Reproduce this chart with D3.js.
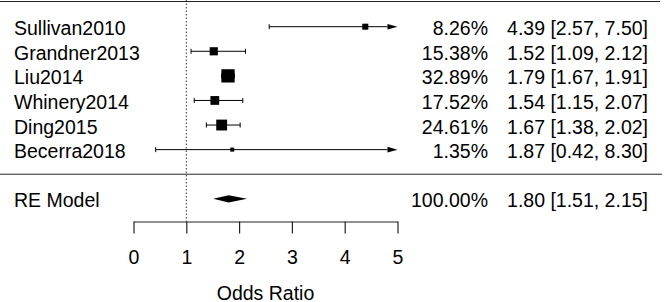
<!DOCTYPE html>
<html>
<head>
<meta charset="utf-8">
<script src="https://cdn.jsdelivr.net/npm/d3@7"></script>
<style>
  html, body { margin: 0; padding: 0; background: #fff; }
  svg { display: block; }
  text { font-family: "Liberation Sans", Arial, sans-serif; fill: #000; }
</style>
</head>
<body>
<svg id="chart" width="664" height="302"></svg>
<script>
// ---- data ----
const studies = ["Sullivan2010", "Grandner2013", "Liu2014", "Whinery2014", "Ding2015", "Becerra2018"];
const oddsRatio = [4.39, 1.52, 1.79, 1.54, 1.67, 1.87];
const ciLower = [2.57, 1.09, 1.67, 1.15, 1.38, 0.42];
const ciUpper = [7.50, 2.12, 1.91, 2.07, 2.02, 8.30];
const weights = [8.26, 15.38, 32.89, 17.52, 24.61, 1.35];
const summaryLabel = "RE Model";
const summaryEstimate = [1.80, 1.51, 2.15]; // estimate, lower, upper
const summaryWeight = 100.00;
const xTicks = [0, 1, 2, 3, 4, 5];
const xLabel = "Odds Ratio";

// ---- layout ----
const W = 664, H = 302;
const fontSize = 19.5;
const svg = d3.select("#chart");

const x = d3.scaleLinear().domain([0, 5]).range([133.5, 397.5]);
const k = studies.length;
// rows: k..1 for studies, -1 for summary
const y = d3.scaleLinear().domain([k, -1]).range([26.7, 198.8]);
const size = d3.scaleLinear().domain([d3.min(weights), d3.max(weights)]).range([4, 13.3]);

const axisY = 221.5;
const labelX = 14;
const pctRight = 488;
const estRight = 648;
const baseOff = 8.6;
const [xmin, xmax] = x.domain();

// top line
svg.append("line").attr("x1", 0).attr("x2", 660).attr("y1", 1.5).attr("y2", 1.5)
  .attr("stroke", "#222").attr("stroke-width", 1);

// reference dotted line at OR = 1
svg.append("line").attr("x1", x(1)).attr("x2", x(1)).attr("y1", 0).attr("y2", axisY)
  .attr("stroke", "#333").attr("stroke-width", 1).attr("stroke-dasharray", "1.5,2");

// separator line
svg.append("line").attr("x1", 0).attr("x2", 662).attr("y1", y(0)).attr("y2", y(0))
  .attr("stroke", "#222").attr("stroke-width", 1);

// study rows
const rows = studies.map((s, i) => ({
  name: s, est: oddsRatio[i], lo: ciLower[i], hi: ciUpper[i], w: weights[i], row: k - i
}));

const g = svg.append("g");
rows.forEach(d => {
  const yy = y(d.row);
  const lo = Math.max(d.lo, xmin), hi = Math.min(d.hi, xmax);
  const arrowLen = 10, arrowHalf = 2.8, cap = 2.5;
  const x1 = d.lo < xmin ? x(lo) + arrowLen : x(lo);
  const x2 = d.hi > xmax ? x(hi) - arrowLen : x(hi);
  g.append("line").attr("x1", x1).attr("x2", x2).attr("y1", yy).attr("y2", yy)
    .attr("stroke", "#000").attr("stroke-width", 1);
  // left end
  if (d.lo < xmin) {
    g.append("path").attr("d", `M${x(lo)},${yy} L${x(lo) + arrowLen},${yy - arrowHalf} L${x(lo) + arrowLen},${yy + arrowHalf} Z`).attr("fill", "#000");
  } else {
    g.append("line").attr("x1", x(lo)).attr("x2", x(lo)).attr("y1", yy - cap).attr("y2", yy + cap)
      .attr("stroke", "#000").attr("stroke-width", 1);
  }
  // right end
  if (d.hi > xmax) {
    g.append("path").attr("d", `M${x(hi)},${yy} L${x(hi) - arrowLen},${yy - arrowHalf} L${x(hi) - arrowLen},${yy + arrowHalf} Z`).attr("fill", "#000");
  } else {
    g.append("line").attr("x1", x(hi)).attr("x2", x(hi)).attr("y1", yy - cap).attr("y2", yy + cap)
      .attr("stroke", "#000").attr("stroke-width", 1);
  }
  // square
  const s = size(d.w);
  g.append("rect").attr("x", x(d.est) - s / 2).attr("y", yy - s / 2)
    .attr("width", s).attr("height", s).attr("fill", "#000");
  // texts
  g.append("text").attr("x", labelX).attr("y", yy + baseOff).attr("font-size", fontSize).text(d.name);
  g.append("text").attr("x", pctRight).attr("y", yy + baseOff).attr("font-size", fontSize)
    .attr("text-anchor", "end").text(d.w.toFixed(2) + "%");
  g.append("text").attr("x", estRight).attr("y", yy + baseOff).attr("font-size", fontSize)
    .attr("text-anchor", "end")
    .text(`${d.est.toFixed(2)} [${d.lo.toFixed(2)}, ${d.hi.toFixed(2)}]`);
});

// summary diamond
const ys = y(-1);
const dh = 3.6;
svg.append("path")
  .attr("d", `M${x(summaryEstimate[1])},${ys} L${x(summaryEstimate[0])},${ys - dh} L${x(summaryEstimate[2])},${ys} L${x(summaryEstimate[0])},${ys + dh} Z`)
  .attr("fill", "#000");
svg.append("text").attr("x", labelX).attr("y", ys + baseOff).attr("font-size", fontSize).text(summaryLabel);
svg.append("text").attr("x", pctRight).attr("y", ys + baseOff).attr("font-size", fontSize)
  .attr("text-anchor", "end").text(summaryWeight.toFixed(2) + "%");
svg.append("text").attr("x", estRight).attr("y", ys + baseOff).attr("font-size", fontSize)
  .attr("text-anchor", "end")
  .text(`${summaryEstimate[0].toFixed(2)} [${summaryEstimate[1].toFixed(2)}, ${summaryEstimate[2].toFixed(2)}]`);

// x axis
const axis = d3.axisBottom(x).tickValues(xTicks).tickSize(12).tickSizeOuter(0).tickPadding(17)
  .tickFormat(d3.format("d"));
const ax = svg.append("g").attr("transform", `translate(0,${axisY})`).call(axis);
ax.select(".domain").attr("stroke", "#222").attr("stroke-width", 1);
ax.selectAll(".tick line").attr("stroke", "#222").attr("stroke-width", 1.2);
ax.selectAll(".tick text").attr("font-size", fontSize)
  .attr("font-family", "'Liberation Sans', Arial, sans-serif").attr("fill", "#000");

svg.append("text").attr("x", (x.range()[0] + x.range()[1]) / 2).attr("y", 299.5)
  .attr("font-size", fontSize).attr("text-anchor", "middle").text(xLabel);
</script>
</body>
</html>
